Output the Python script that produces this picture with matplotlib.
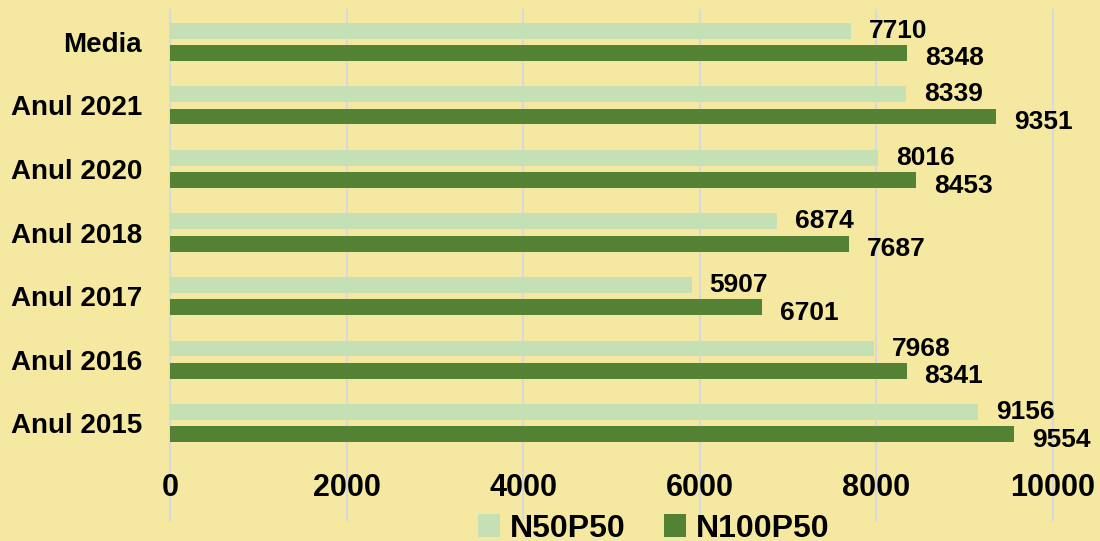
import numpy as np
import matplotlib.pyplot as plt
from matplotlib.transforms import blended_transform_factory

plt.rcParams['font.family'] = ['Liberation Sans', 'DejaVu Sans']
plt.rcParams['font.weight'] = 'bold'

categories = ['Media', 'Anul 2021', 'Anul 2020', 'Anul 2018', 'Anul 2017', 'Anul 2016', 'Anul 2015']
n50p50 = [7710, 8339, 8016, 6874, 5907, 7968, 9156]
n100p50 = [8348, 9351, 8453, 7687, 6701, 8341, 9554]
series_names = ['N50P50', 'N100P50']

bg = '#F5E9A1'
light = '#C5E0B4'
dark = '#548235'

fig = plt.figure(figsize=(11, 5.41), dpi=100, facecolor=bg)
ax = fig.add_axes([170/1100, 1-455/541, (1053-170)/1100, (455-10)/541])
ax.set_facecolor(bg)

y = np.arange(len(categories))
h = 0.25
b1 = ax.barh(y - 0.175, n50p50, height=h, color=light, label=series_names[0], zorder=3)
b2 = ax.barh(y + 0.175, n100p50, height=h, color=dark, label=series_names[1], zorder=3)

for v, yy in zip(n50p50, y):
    ax.annotate(str(v), (v, yy - 0.175), xytext=(13, 0), textcoords='offset points',
                va='center', ha='left', fontsize=19, fontweight='bold', color='black')
for v, yy in zip(n100p50, y):
    ax.annotate(str(v), (v, yy + 0.175), xytext=(13, -4), textcoords='offset points',
                va='center', ha='left', fontsize=19, fontweight='bold', color='black')

ax.set_xlim(0, 10000)
ax.set_ylim(len(categories) - 0.5, -0.5)
ax.set_xticks(np.arange(0, 10001, 2000))
ax.set_yticks(y)
ax.set_yticklabels(categories)
ax.tick_params(axis='x', length=0, pad=13, labelsize=22)
ax.tick_params(axis='y', length=0, pad=20, labelsize=20)
for s in ax.spines.values():
    s.set_visible(False)

# vertical grid lines run down through the tick labels and legend
trans = blended_transform_factory(ax.transData, ax.transAxes)
for xv in np.arange(0, 10001, 2000):
    ax.plot([xv, xv], [1, -0.145], transform=trans, color='#D9D9D9', lw=1.5,
            clip_on=False, zorder=0)

leg = fig.legend(handles=[b1, b2], labels=series_names, loc='lower center',
                 bbox_to_anchor=(0.594, -0.058), ncol=2, frameon=False, fontsize=23,
                 handlelength=0.7, handleheight=0.7, handletextpad=0.3, columnspacing=1.2)

fig.savefig('out.png', dpi=100, facecolor=bg)
